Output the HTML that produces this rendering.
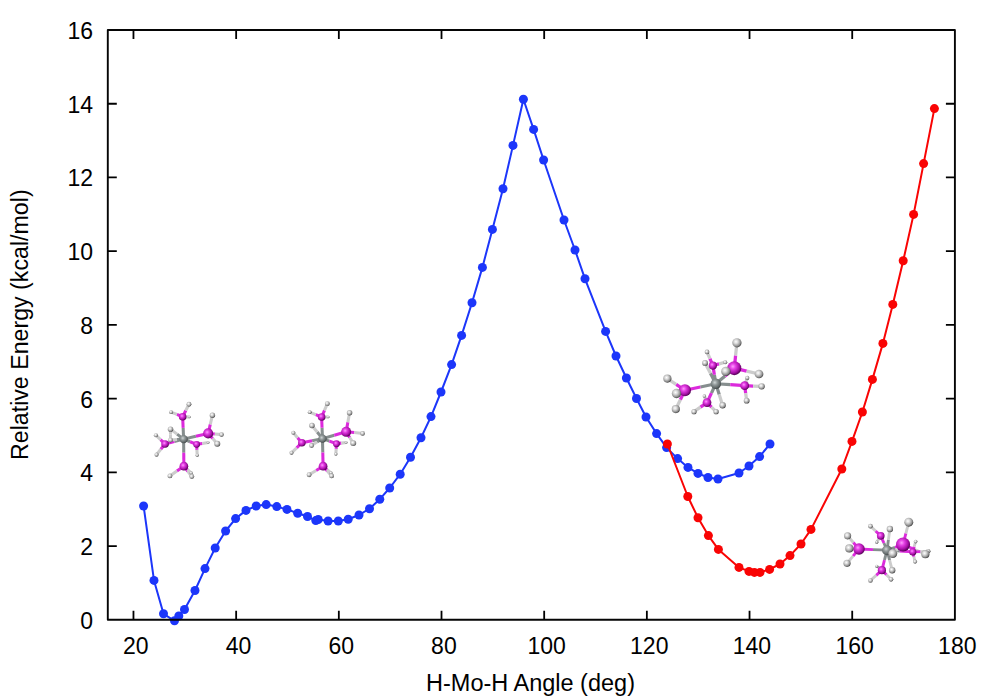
<!DOCTYPE html><html><head><meta charset="utf-8"><title>Relative Energy vs H-Mo-H Angle</title>
<style>html,body{margin:0;padding:0;background:#fff;}svg{display:block;}text{font-family:"Liberation Sans",sans-serif;fill:#000;}</style></head><body>
<svg width="1000" height="700" viewBox="0 0 1000 700">
<defs><radialGradient id="gP" cx="0.4" cy="0.38" r="0.65"><stop offset="0" stop-color="#ff9cff"/><stop offset="0.3" stop-color="#e440e4"/><stop offset="0.7" stop-color="#a810a8"/><stop offset="1" stop-color="#480048"/></radialGradient><radialGradient id="gH" cx="0.4" cy="0.38" r="0.65"><stop offset="0" stop-color="#ffffff"/><stop offset="0.35" stop-color="#d6d6d6"/><stop offset="0.75" stop-color="#8e8e8e"/><stop offset="1" stop-color="#3a3a3a"/></radialGradient><radialGradient id="gM" cx="0.4" cy="0.38" r="0.65"><stop offset="0" stop-color="#d0d6d6"/><stop offset="0.35" stop-color="#949c9c"/><stop offset="0.8" stop-color="#5e6666"/><stop offset="1" stop-color="#3a4040"/></radialGradient></defs>
<rect x="0" y="0" width="1000" height="700" fill="#fff"/>
<g><line x1="183.63" y1="439.11" x2="183.14" y2="427.94" stroke="#868e8e" stroke-width="3.04"/><line x1="183.14" y1="427.94" x2="182.65" y2="416.76" stroke="#dc2adc" stroke-width="3.04"/><line x1="183.63" y1="439.11" x2="195.89" y2="436.26" stroke="#868e8e" stroke-width="3.04"/><line x1="195.89" y1="436.26" x2="208.16" y2="433.40" stroke="#dc2adc" stroke-width="3.04"/><line x1="183.63" y1="439.11" x2="174.33" y2="441.54" stroke="#868e8e" stroke-width="3.04"/><line x1="174.33" y1="441.54" x2="165.04" y2="443.97" stroke="#dc2adc" stroke-width="3.04"/><line x1="183.63" y1="439.11" x2="190.12" y2="441.72" stroke="#868e8e" stroke-width="3.04"/><line x1="190.12" y1="441.72" x2="196.62" y2="444.33" stroke="#dc2adc" stroke-width="3.04"/><line x1="183.63" y1="439.11" x2="183.75" y2="452.65" stroke="#868e8e" stroke-width="3.04"/><line x1="183.75" y1="452.65" x2="183.87" y2="466.20" stroke="#dc2adc" stroke-width="3.04"/><line x1="183.63" y1="439.11" x2="177.07" y2="434.13" stroke="#868e8e" stroke-width="3.04"/><line x1="177.07" y1="434.13" x2="170.51" y2="429.15" stroke="#cccccc" stroke-width="3.04"/><line x1="183.63" y1="439.11" x2="177.07" y2="439.60" stroke="#868e8e" stroke-width="3.04"/><line x1="177.07" y1="439.60" x2="170.51" y2="440.08" stroke="#cccccc" stroke-width="3.04"/><line x1="170.51" y1="429.15" x2="170.51" y2="434.62" stroke="#cccccc" stroke-width="3.04"/><line x1="170.51" y1="434.62" x2="170.51" y2="440.08" stroke="#cccccc" stroke-width="3.04"/><line x1="182.65" y1="416.76" x2="185.81" y2="410.51" stroke="#dc2adc" stroke-width="3.04"/><line x1="185.81" y1="410.51" x2="188.97" y2="404.25" stroke="#cccccc" stroke-width="3.04"/><line x1="182.65" y1="416.76" x2="176.88" y2="414.45" stroke="#dc2adc" stroke-width="3.04"/><line x1="176.88" y1="414.45" x2="171.11" y2="412.15" stroke="#cccccc" stroke-width="3.04"/><line x1="182.65" y1="416.76" x2="185.99" y2="416.88" stroke="#dc2adc" stroke-width="3.04"/><line x1="185.99" y1="416.88" x2="189.33" y2="417.00" stroke="#cccccc" stroke-width="3.04"/><line x1="208.16" y1="433.40" x2="210.29" y2="424.29" stroke="#dc2adc" stroke-width="3.04"/><line x1="210.29" y1="424.29" x2="212.41" y2="415.18" stroke="#cccccc" stroke-width="3.04"/><line x1="208.16" y1="433.40" x2="214.84" y2="434.01" stroke="#dc2adc" stroke-width="3.04"/><line x1="214.84" y1="434.01" x2="221.52" y2="434.62" stroke="#cccccc" stroke-width="3.04"/><line x1="208.16" y1="433.40" x2="212.72" y2="438.56" stroke="#dc2adc" stroke-width="3.04"/><line x1="212.72" y1="438.56" x2="217.27" y2="443.73" stroke="#cccccc" stroke-width="3.04"/><line x1="165.04" y1="443.97" x2="160.49" y2="439.60" stroke="#dc2adc" stroke-width="3.04"/><line x1="160.49" y1="439.60" x2="155.93" y2="435.22" stroke="#cccccc" stroke-width="3.04"/><line x1="165.04" y1="443.97" x2="160.79" y2="449.31" stroke="#dc2adc" stroke-width="3.04"/><line x1="160.79" y1="449.31" x2="156.54" y2="454.66" stroke="#cccccc" stroke-width="3.04"/><line x1="196.62" y1="444.33" x2="202.39" y2="443.42" stroke="#dc2adc" stroke-width="3.04"/><line x1="202.39" y1="443.42" x2="208.16" y2="442.51" stroke="#cccccc" stroke-width="3.04"/><line x1="196.62" y1="444.33" x2="196.93" y2="449.80" stroke="#dc2adc" stroke-width="3.04"/><line x1="196.93" y1="449.80" x2="197.23" y2="455.27" stroke="#cccccc" stroke-width="3.04"/><line x1="183.87" y1="466.20" x2="176.88" y2="471.06" stroke="#dc2adc" stroke-width="3.04"/><line x1="176.88" y1="471.06" x2="169.90" y2="475.91" stroke="#cccccc" stroke-width="3.04"/><line x1="183.87" y1="466.20" x2="187.82" y2="471.36" stroke="#dc2adc" stroke-width="3.04"/><line x1="187.82" y1="471.36" x2="191.76" y2="476.52" stroke="#cccccc" stroke-width="3.04"/><line x1="183.87" y1="466.20" x2="187.51" y2="469.54" stroke="#dc2adc" stroke-width="3.04"/><line x1="187.51" y1="469.54" x2="191.16" y2="472.88" stroke="#cccccc" stroke-width="3.04"/><circle cx="191.16" cy="472.88" r="1.63" fill="url(#gH)"/><circle cx="189.33" cy="417.00" r="1.36" fill="url(#gH)"/><circle cx="208.16" cy="442.51" r="1.36" fill="url(#gH)"/><circle cx="183.63" cy="439.11" r="4.19" fill="url(#gM)"/><circle cx="182.65" cy="416.76" r="3.81" fill="url(#gP)"/><circle cx="188.97" cy="404.25" r="2.45" fill="url(#gH)"/><circle cx="171.11" cy="412.15" r="1.90" fill="url(#gH)"/><circle cx="165.04" cy="443.97" r="3.81" fill="url(#gP)"/><circle cx="155.93" cy="435.22" r="2.04" fill="url(#gH)"/><circle cx="156.54" cy="454.66" r="2.04" fill="url(#gH)"/><circle cx="196.62" cy="444.33" r="3.40" fill="url(#gP)"/><circle cx="197.23" cy="455.27" r="1.63" fill="url(#gH)"/><circle cx="183.87" cy="466.20" r="4.35" fill="url(#gP)"/><circle cx="169.90" cy="475.91" r="2.45" fill="url(#gH)"/><circle cx="191.76" cy="476.52" r="2.45" fill="url(#gH)"/><circle cx="170.51" cy="429.15" r="2.72" fill="url(#gH)"/><circle cx="170.51" cy="440.08" r="2.45" fill="url(#gH)"/><circle cx="208.16" cy="433.40" r="5.03" fill="url(#gP)"/><circle cx="212.41" cy="415.18" r="2.72" fill="url(#gH)"/><circle cx="221.52" cy="434.62" r="2.31" fill="url(#gH)"/><circle cx="217.27" cy="443.73" r="2.99" fill="url(#gH)"/></g><g><line x1="322.48" y1="438.63" x2="322.05" y2="427.81" stroke="#868e8e" stroke-width="3.04"/><line x1="322.05" y1="427.81" x2="321.63" y2="417.00" stroke="#dc2adc" stroke-width="3.04"/><line x1="322.48" y1="438.63" x2="334.32" y2="435.22" stroke="#868e8e" stroke-width="3.04"/><line x1="334.32" y1="435.22" x2="346.16" y2="431.82" stroke="#dc2adc" stroke-width="3.04"/><line x1="322.48" y1="438.63" x2="312.15" y2="440.69" stroke="#868e8e" stroke-width="3.04"/><line x1="312.15" y1="440.69" x2="301.83" y2="442.75" stroke="#dc2adc" stroke-width="3.04"/><line x1="322.48" y1="438.63" x2="329.46" y2="441.18" stroke="#868e8e" stroke-width="3.04"/><line x1="329.46" y1="441.18" x2="336.44" y2="443.73" stroke="#dc2adc" stroke-width="3.04"/><line x1="322.48" y1="438.63" x2="322.78" y2="452.41" stroke="#868e8e" stroke-width="3.04"/><line x1="322.78" y1="452.41" x2="323.08" y2="466.20" stroke="#dc2adc" stroke-width="3.04"/><line x1="322.48" y1="438.63" x2="317.19" y2="432.07" stroke="#868e8e" stroke-width="3.04"/><line x1="317.19" y1="432.07" x2="311.91" y2="425.51" stroke="#cccccc" stroke-width="3.04"/><line x1="322.48" y1="438.63" x2="317.01" y2="442.09" stroke="#868e8e" stroke-width="3.04"/><line x1="317.01" y1="442.09" x2="311.54" y2="445.55" stroke="#cccccc" stroke-width="3.04"/><line x1="321.63" y1="417.00" x2="324.48" y2="410.32" stroke="#dc2adc" stroke-width="3.04"/><line x1="324.48" y1="410.32" x2="327.33" y2="403.64" stroke="#cccccc" stroke-width="3.04"/><line x1="321.63" y1="417.00" x2="315.67" y2="414.58" stroke="#dc2adc" stroke-width="3.04"/><line x1="315.67" y1="414.58" x2="309.72" y2="412.15" stroke="#cccccc" stroke-width="3.04"/><line x1="321.63" y1="417.00" x2="324.90" y2="417.00" stroke="#dc2adc" stroke-width="3.04"/><line x1="324.90" y1="417.00" x2="328.18" y2="417.00" stroke="#cccccc" stroke-width="3.04"/><line x1="346.16" y1="431.82" x2="347.86" y2="422.29" stroke="#dc2adc" stroke-width="3.04"/><line x1="347.86" y1="422.29" x2="349.56" y2="412.75" stroke="#cccccc" stroke-width="3.04"/><line x1="346.16" y1="431.82" x2="354.36" y2="432.61" stroke="#dc2adc" stroke-width="3.04"/><line x1="354.36" y1="432.61" x2="362.56" y2="433.40" stroke="#cccccc" stroke-width="3.04"/><line x1="346.16" y1="431.82" x2="349.68" y2="437.47" stroke="#dc2adc" stroke-width="3.04"/><line x1="349.68" y1="437.47" x2="353.21" y2="443.12" stroke="#cccccc" stroke-width="3.04"/><line x1="301.83" y1="442.75" x2="297.58" y2="437.77" stroke="#dc2adc" stroke-width="3.04"/><line x1="297.58" y1="437.77" x2="293.32" y2="432.79" stroke="#cccccc" stroke-width="3.04"/><line x1="301.83" y1="442.75" x2="296.66" y2="447.80" stroke="#dc2adc" stroke-width="3.04"/><line x1="296.66" y1="447.80" x2="291.50" y2="452.84" stroke="#cccccc" stroke-width="3.04"/><line x1="336.44" y1="443.73" x2="341.30" y2="443.12" stroke="#dc2adc" stroke-width="3.04"/><line x1="341.30" y1="443.12" x2="346.16" y2="442.51" stroke="#cccccc" stroke-width="3.04"/><line x1="336.44" y1="443.73" x2="336.14" y2="448.89" stroke="#dc2adc" stroke-width="3.04"/><line x1="336.14" y1="448.89" x2="335.84" y2="454.05" stroke="#cccccc" stroke-width="3.04"/><line x1="323.08" y1="466.20" x2="316.10" y2="470.45" stroke="#dc2adc" stroke-width="3.04"/><line x1="316.10" y1="470.45" x2="309.11" y2="474.70" stroke="#cccccc" stroke-width="3.04"/><line x1="323.08" y1="466.20" x2="327.33" y2="471.06" stroke="#dc2adc" stroke-width="3.04"/><line x1="327.33" y1="471.06" x2="331.58" y2="475.91" stroke="#cccccc" stroke-width="3.04"/><line x1="323.08" y1="466.20" x2="327.03" y2="469.54" stroke="#dc2adc" stroke-width="3.04"/><line x1="327.03" y1="469.54" x2="330.98" y2="472.88" stroke="#cccccc" stroke-width="3.04"/><circle cx="330.98" cy="472.88" r="1.63" fill="url(#gH)"/><circle cx="328.18" cy="417.00" r="1.36" fill="url(#gH)"/><circle cx="346.16" cy="442.51" r="1.36" fill="url(#gH)"/><circle cx="322.48" cy="438.63" r="4.19" fill="url(#gM)"/><circle cx="321.63" cy="417.00" r="3.81" fill="url(#gP)"/><circle cx="327.33" cy="403.64" r="2.45" fill="url(#gH)"/><circle cx="309.72" cy="412.15" r="1.90" fill="url(#gH)"/><circle cx="301.83" cy="442.75" r="3.81" fill="url(#gP)"/><circle cx="293.32" cy="432.79" r="2.04" fill="url(#gH)"/><circle cx="291.50" cy="452.84" r="2.04" fill="url(#gH)"/><circle cx="336.44" cy="443.73" r="3.40" fill="url(#gP)"/><circle cx="335.84" cy="454.05" r="1.63" fill="url(#gH)"/><circle cx="323.08" cy="466.20" r="4.35" fill="url(#gP)"/><circle cx="309.11" cy="474.70" r="2.45" fill="url(#gH)"/><circle cx="331.58" cy="475.91" r="2.45" fill="url(#gH)"/><circle cx="311.91" cy="425.51" r="2.72" fill="url(#gH)"/><circle cx="311.54" cy="445.55" r="2.45" fill="url(#gH)"/><circle cx="346.16" cy="431.82" r="5.03" fill="url(#gP)"/><circle cx="349.56" cy="412.75" r="2.72" fill="url(#gH)"/><circle cx="362.56" cy="433.40" r="2.31" fill="url(#gH)"/><circle cx="353.21" cy="443.12" r="2.99" fill="url(#gH)"/></g><g><line x1="715.84" y1="383.75" x2="725.07" y2="375.95" stroke="#868e8e" stroke-width="3.25"/><line x1="725.07" y1="375.95" x2="734.30" y2="368.15" stroke="#dc2adc" stroke-width="3.25"/><line x1="715.84" y1="383.75" x2="714.35" y2="374.65" stroke="#868e8e" stroke-width="3.25"/><line x1="714.35" y1="374.65" x2="712.85" y2="365.55" stroke="#dc2adc" stroke-width="3.25"/><line x1="715.84" y1="383.75" x2="700.37" y2="387.00" stroke="#868e8e" stroke-width="3.25"/><line x1="700.37" y1="387.00" x2="684.90" y2="390.25" stroke="#dc2adc" stroke-width="3.25"/><line x1="715.84" y1="383.75" x2="730.27" y2="384.73" stroke="#868e8e" stroke-width="3.25"/><line x1="730.27" y1="384.73" x2="744.70" y2="385.70" stroke="#dc2adc" stroke-width="3.25"/><line x1="715.84" y1="383.75" x2="711.42" y2="393.18" stroke="#868e8e" stroke-width="3.25"/><line x1="711.42" y1="393.18" x2="707.00" y2="402.60" stroke="#dc2adc" stroke-width="3.25"/><line x1="715.84" y1="383.75" x2="710.45" y2="373.35" stroke="#868e8e" stroke-width="3.25"/><line x1="710.45" y1="373.35" x2="705.05" y2="362.95" stroke="#cccccc" stroke-width="3.25"/><line x1="715.84" y1="383.75" x2="719.22" y2="394.48" stroke="#868e8e" stroke-width="3.25"/><line x1="719.22" y1="394.48" x2="722.60" y2="405.20" stroke="#cccccc" stroke-width="3.25"/><line x1="734.30" y1="368.15" x2="735.60" y2="355.48" stroke="#dc2adc" stroke-width="3.25"/><line x1="735.60" y1="355.48" x2="736.90" y2="342.80" stroke="#cccccc" stroke-width="3.25"/><line x1="734.30" y1="368.15" x2="746.65" y2="371.08" stroke="#dc2adc" stroke-width="3.25"/><line x1="746.65" y1="371.08" x2="759.00" y2="374.00" stroke="#cccccc" stroke-width="3.25"/><line x1="734.30" y1="368.15" x2="730.08" y2="369.78" stroke="#dc2adc" stroke-width="3.25"/><line x1="730.08" y1="369.78" x2="725.85" y2="371.40" stroke="#cccccc" stroke-width="3.25"/><line x1="712.85" y1="365.55" x2="709.93" y2="358.73" stroke="#dc2adc" stroke-width="3.25"/><line x1="709.93" y1="358.73" x2="707.00" y2="351.90" stroke="#cccccc" stroke-width="3.25"/><line x1="712.85" y1="365.55" x2="719.03" y2="363.93" stroke="#dc2adc" stroke-width="3.25"/><line x1="719.03" y1="363.93" x2="725.20" y2="362.30" stroke="#cccccc" stroke-width="3.25"/><line x1="684.90" y1="390.25" x2="676.13" y2="384.40" stroke="#dc2adc" stroke-width="3.25"/><line x1="676.13" y1="384.40" x2="667.35" y2="378.55" stroke="#cccccc" stroke-width="3.25"/><line x1="684.90" y1="390.25" x2="680.68" y2="391.88" stroke="#dc2adc" stroke-width="3.25"/><line x1="680.68" y1="391.88" x2="676.45" y2="393.50" stroke="#cccccc" stroke-width="3.25"/><line x1="684.90" y1="390.25" x2="680.35" y2="399.68" stroke="#dc2adc" stroke-width="3.25"/><line x1="680.35" y1="399.68" x2="675.80" y2="409.10" stroke="#cccccc" stroke-width="3.25"/><line x1="744.70" y1="385.70" x2="753.15" y2="386.03" stroke="#dc2adc" stroke-width="3.25"/><line x1="753.15" y1="386.03" x2="761.60" y2="386.35" stroke="#cccccc" stroke-width="3.25"/><line x1="744.70" y1="385.70" x2="745.68" y2="393.18" stroke="#dc2adc" stroke-width="3.25"/><line x1="745.68" y1="393.18" x2="746.65" y2="400.65" stroke="#cccccc" stroke-width="3.25"/><line x1="744.70" y1="385.70" x2="746.00" y2="381.80" stroke="#dc2adc" stroke-width="3.25"/><line x1="746.00" y1="381.80" x2="747.30" y2="377.90" stroke="#cccccc" stroke-width="3.25"/><line x1="707.00" y1="402.60" x2="700.50" y2="407.15" stroke="#dc2adc" stroke-width="3.25"/><line x1="700.50" y1="407.15" x2="694.00" y2="411.70" stroke="#cccccc" stroke-width="3.25"/><line x1="707.00" y1="402.60" x2="711.55" y2="407.15" stroke="#dc2adc" stroke-width="3.25"/><line x1="711.55" y1="407.15" x2="716.10" y2="411.70" stroke="#cccccc" stroke-width="3.25"/><line x1="707.00" y1="402.60" x2="705.70" y2="399.35" stroke="#dc2adc" stroke-width="3.25"/><line x1="705.70" y1="399.35" x2="704.40" y2="396.10" stroke="#cccccc" stroke-width="3.25"/><circle cx="707.00" cy="351.90" r="2.33" fill="url(#gH)"/><circle cx="725.20" cy="362.30" r="2.04" fill="url(#gH)"/><circle cx="747.30" cy="377.90" r="2.04" fill="url(#gH)"/><circle cx="704.40" cy="396.10" r="1.75" fill="url(#gH)"/><circle cx="712.85" cy="365.55" r="4.08" fill="url(#gP)"/><circle cx="705.05" cy="362.95" r="2.91" fill="url(#gH)"/><circle cx="715.84" cy="383.75" r="5.23" fill="url(#gM)"/><circle cx="744.70" cy="385.70" r="4.37" fill="url(#gP)"/><circle cx="761.60" cy="386.35" r="3.20" fill="url(#gH)"/><circle cx="746.65" cy="400.65" r="2.91" fill="url(#gH)"/><circle cx="707.00" cy="402.60" r="4.37" fill="url(#gP)"/><circle cx="694.00" cy="411.70" r="2.62" fill="url(#gH)"/><circle cx="716.10" cy="411.70" r="2.62" fill="url(#gH)"/><circle cx="722.60" cy="405.20" r="3.20" fill="url(#gH)"/><circle cx="684.90" cy="390.25" r="6.12" fill="url(#gP)"/><circle cx="667.35" cy="378.55" r="4.08" fill="url(#gH)"/><circle cx="675.80" cy="409.10" r="4.08" fill="url(#gH)"/><circle cx="676.45" cy="393.50" r="4.66" fill="url(#gH)"/><circle cx="734.30" cy="368.15" r="6.99" fill="url(#gP)"/><circle cx="736.90" cy="342.80" r="4.66" fill="url(#gH)"/><circle cx="759.00" cy="374.00" r="4.37" fill="url(#gH)"/><circle cx="725.85" cy="371.40" r="4.66" fill="url(#gH)"/></g><g><line x1="887.03" y1="550.17" x2="895.03" y2="547.31" stroke="#868e8e" stroke-width="2.86"/><line x1="895.03" y1="547.31" x2="903.04" y2="544.45" stroke="#dc2adc" stroke-width="2.86"/><line x1="887.03" y1="550.17" x2="883.89" y2="543.02" stroke="#868e8e" stroke-width="2.86"/><line x1="883.89" y1="543.02" x2="880.74" y2="535.87" stroke="#dc2adc" stroke-width="2.86"/><line x1="887.03" y1="550.17" x2="873.02" y2="549.60" stroke="#868e8e" stroke-width="2.86"/><line x1="873.02" y1="549.60" x2="859.01" y2="549.03" stroke="#dc2adc" stroke-width="2.86"/><line x1="887.03" y1="550.17" x2="899.89" y2="551.03" stroke="#868e8e" stroke-width="2.86"/><line x1="899.89" y1="551.03" x2="912.76" y2="551.88" stroke="#dc2adc" stroke-width="2.86"/><line x1="887.03" y1="550.17" x2="884.46" y2="560.17" stroke="#868e8e" stroke-width="2.86"/><line x1="884.46" y1="560.17" x2="881.88" y2="570.18" stroke="#dc2adc" stroke-width="2.86"/><line x1="887.03" y1="550.17" x2="888.46" y2="539.59" stroke="#868e8e" stroke-width="2.86"/><line x1="888.46" y1="539.59" x2="889.89" y2="529.01" stroke="#cccccc" stroke-width="2.86"/><line x1="887.03" y1="550.17" x2="889.60" y2="560.17" stroke="#868e8e" stroke-width="2.86"/><line x1="889.60" y1="560.17" x2="892.18" y2="570.18" stroke="#cccccc" stroke-width="2.86"/><line x1="903.04" y1="544.45" x2="905.90" y2="533.30" stroke="#dc2adc" stroke-width="2.86"/><line x1="905.90" y1="533.30" x2="908.76" y2="522.15" stroke="#cccccc" stroke-width="2.86"/><line x1="903.04" y1="544.45" x2="914.19" y2="549.31" stroke="#dc2adc" stroke-width="2.86"/><line x1="914.19" y1="549.31" x2="925.34" y2="554.17" stroke="#cccccc" stroke-width="2.86"/><line x1="903.04" y1="544.45" x2="897.89" y2="549.03" stroke="#dc2adc" stroke-width="2.86"/><line x1="897.89" y1="549.03" x2="892.75" y2="553.60" stroke="#cccccc" stroke-width="2.86"/><line x1="880.74" y1="535.87" x2="875.59" y2="531.01" stroke="#dc2adc" stroke-width="2.86"/><line x1="875.59" y1="531.01" x2="870.45" y2="526.15" stroke="#cccccc" stroke-width="2.86"/><line x1="880.74" y1="535.87" x2="878.74" y2="539.02" stroke="#dc2adc" stroke-width="2.86"/><line x1="878.74" y1="539.02" x2="876.74" y2="542.16" stroke="#cccccc" stroke-width="2.86"/><line x1="859.01" y1="549.03" x2="853.30" y2="542.45" stroke="#dc2adc" stroke-width="2.86"/><line x1="853.30" y1="542.45" x2="847.58" y2="535.87" stroke="#cccccc" stroke-width="2.86"/><line x1="859.01" y1="549.03" x2="854.15" y2="548.74" stroke="#dc2adc" stroke-width="2.86"/><line x1="854.15" y1="548.74" x2="849.29" y2="548.45" stroke="#cccccc" stroke-width="2.86"/><line x1="859.01" y1="549.03" x2="853.01" y2="556.17" stroke="#dc2adc" stroke-width="2.86"/><line x1="853.01" y1="556.17" x2="847.01" y2="563.32" stroke="#cccccc" stroke-width="2.86"/><line x1="912.76" y1="551.88" x2="914.19" y2="546.74" stroke="#dc2adc" stroke-width="2.86"/><line x1="914.19" y1="546.74" x2="915.62" y2="541.59" stroke="#cccccc" stroke-width="2.86"/><line x1="912.76" y1="551.88" x2="913.90" y2="556.74" stroke="#dc2adc" stroke-width="2.86"/><line x1="913.90" y1="556.74" x2="915.05" y2="561.60" stroke="#cccccc" stroke-width="2.86"/><line x1="912.76" y1="551.88" x2="920.48" y2="551.60" stroke="#dc2adc" stroke-width="2.86"/><line x1="920.48" y1="551.60" x2="928.20" y2="551.31" stroke="#cccccc" stroke-width="2.86"/><line x1="881.88" y1="570.18" x2="876.17" y2="575.33" stroke="#dc2adc" stroke-width="2.86"/><line x1="876.17" y1="575.33" x2="870.45" y2="580.47" stroke="#cccccc" stroke-width="2.86"/><line x1="881.88" y1="570.18" x2="886.46" y2="574.75" stroke="#dc2adc" stroke-width="2.86"/><line x1="886.46" y1="574.75" x2="891.03" y2="579.33" stroke="#cccccc" stroke-width="2.86"/><line x1="881.88" y1="570.18" x2="879.31" y2="568.18" stroke="#dc2adc" stroke-width="2.86"/><line x1="879.31" y1="568.18" x2="876.74" y2="566.18" stroke="#cccccc" stroke-width="2.86"/><circle cx="876.74" cy="542.16" r="1.54" fill="url(#gH)"/><circle cx="876.74" cy="566.18" r="1.54" fill="url(#gH)"/><circle cx="915.62" cy="541.59" r="1.79" fill="url(#gH)"/><circle cx="915.05" cy="561.60" r="2.05" fill="url(#gH)"/><circle cx="928.20" cy="551.31" r="2.31" fill="url(#gH)"/><circle cx="912.76" cy="551.88" r="3.59" fill="url(#gP)"/><circle cx="880.74" cy="535.87" r="3.84" fill="url(#gP)"/><circle cx="870.45" cy="526.15" r="2.31" fill="url(#gH)"/><circle cx="889.89" cy="529.01" r="3.20" fill="url(#gH)"/><circle cx="887.03" cy="550.17" r="5.00" fill="url(#gM)"/><circle cx="881.88" cy="570.18" r="4.10" fill="url(#gP)"/><circle cx="870.45" cy="580.47" r="2.31" fill="url(#gH)"/><circle cx="891.03" cy="579.33" r="2.31" fill="url(#gH)"/><circle cx="892.18" cy="570.18" r="3.20" fill="url(#gH)"/><circle cx="859.01" cy="549.03" r="5.76" fill="url(#gP)"/><circle cx="847.58" cy="535.87" r="3.59" fill="url(#gH)"/><circle cx="847.01" cy="563.32" r="3.59" fill="url(#gH)"/><circle cx="849.29" cy="548.45" r="4.10" fill="url(#gH)"/><circle cx="903.04" cy="544.45" r="7.04" fill="url(#gP)"/><circle cx="908.76" cy="522.15" r="4.48" fill="url(#gH)"/><circle cx="925.34" cy="554.17" r="4.10" fill="url(#gH)"/><circle cx="892.75" cy="553.60" r="4.48" fill="url(#gH)"/></g>
<g><path d="M143.6 506.0 L154.0 580.4 L163.5 613.8 L174.5 620.8 L178.8 616.0 L184.5 609.5 L195.0 590.5 L205.0 568.6 L215.2 548.0 L225.6 531.0 L235.6 518.6 L246.0 510.4 L256.2 506.0 L266.2 504.6 L276.8 506.6 L287.0 509.4 L297.7 513.2 L307.5 516.5 L315.8 520.6 L318.2 519.5 L328.1 521.0 L338.3 521.0 L348.2 519.2 L359.0 515.0 L369.5 508.7 L379.8 499.2 L389.7 488.0 L400.2 474.2 L410.5 457.2 L421.0 437.8 L431.0 416.6 L441.0 392.0 L451.6 364.6 L461.6 335.4 L472.0 302.8 L482.4 267.4 L492.4 229.4 L503.0 188.8 L513.0 145.4 L523.4 99.2 L533.6 129.4 L543.6 160.0 L564.0 220.0 L575.0 250.0 L585.0 278.8 L605.6 331.4 L616.0 356.0 L626.4 378.0 L636.5 398.5 L646.0 417.0 L656.6 433.6 L666.6 447.6 L677.6 458.6 L688.0 467.4 L698.0 473.4 L708.0 477.5 L718.0 479.0 L739.0 473.0 L749.0 466.0 L759.6 456.6 L770.0 444.0" fill="none" stroke="#1c36fa" stroke-width="2.0" stroke-linejoin="round"/><circle cx="143.6" cy="506.0" r="4.5" fill="#1c36fa"/><circle cx="154.0" cy="580.4" r="4.5" fill="#1c36fa"/><circle cx="163.5" cy="613.8" r="4.5" fill="#1c36fa"/><circle cx="174.5" cy="620.8" r="4.5" fill="#1c36fa"/><circle cx="178.8" cy="616.0" r="4.5" fill="#1c36fa"/><circle cx="184.5" cy="609.5" r="4.5" fill="#1c36fa"/><circle cx="195.0" cy="590.5" r="4.5" fill="#1c36fa"/><circle cx="205.0" cy="568.6" r="4.5" fill="#1c36fa"/><circle cx="215.2" cy="548.0" r="4.5" fill="#1c36fa"/><circle cx="225.6" cy="531.0" r="4.5" fill="#1c36fa"/><circle cx="235.6" cy="518.6" r="4.5" fill="#1c36fa"/><circle cx="246.0" cy="510.4" r="4.5" fill="#1c36fa"/><circle cx="256.2" cy="506.0" r="4.5" fill="#1c36fa"/><circle cx="266.2" cy="504.6" r="4.5" fill="#1c36fa"/><circle cx="276.8" cy="506.6" r="4.5" fill="#1c36fa"/><circle cx="287.0" cy="509.4" r="4.5" fill="#1c36fa"/><circle cx="297.7" cy="513.2" r="4.5" fill="#1c36fa"/><circle cx="307.5" cy="516.5" r="4.5" fill="#1c36fa"/><circle cx="315.8" cy="520.6" r="4.5" fill="#1c36fa"/><circle cx="318.2" cy="519.5" r="4.5" fill="#1c36fa"/><circle cx="328.1" cy="521.0" r="4.5" fill="#1c36fa"/><circle cx="338.3" cy="521.0" r="4.5" fill="#1c36fa"/><circle cx="348.2" cy="519.2" r="4.5" fill="#1c36fa"/><circle cx="359.0" cy="515.0" r="4.5" fill="#1c36fa"/><circle cx="369.5" cy="508.7" r="4.5" fill="#1c36fa"/><circle cx="379.8" cy="499.2" r="4.5" fill="#1c36fa"/><circle cx="389.7" cy="488.0" r="4.5" fill="#1c36fa"/><circle cx="400.2" cy="474.2" r="4.5" fill="#1c36fa"/><circle cx="410.5" cy="457.2" r="4.5" fill="#1c36fa"/><circle cx="421.0" cy="437.8" r="4.5" fill="#1c36fa"/><circle cx="431.0" cy="416.6" r="4.5" fill="#1c36fa"/><circle cx="441.0" cy="392.0" r="4.5" fill="#1c36fa"/><circle cx="451.6" cy="364.6" r="4.5" fill="#1c36fa"/><circle cx="461.6" cy="335.4" r="4.5" fill="#1c36fa"/><circle cx="472.0" cy="302.8" r="4.5" fill="#1c36fa"/><circle cx="482.4" cy="267.4" r="4.5" fill="#1c36fa"/><circle cx="492.4" cy="229.4" r="4.5" fill="#1c36fa"/><circle cx="503.0" cy="188.8" r="4.5" fill="#1c36fa"/><circle cx="513.0" cy="145.4" r="4.5" fill="#1c36fa"/><circle cx="523.4" cy="99.2" r="4.5" fill="#1c36fa"/><circle cx="533.6" cy="129.4" r="4.5" fill="#1c36fa"/><circle cx="543.6" cy="160.0" r="4.5" fill="#1c36fa"/><circle cx="564.0" cy="220.0" r="4.5" fill="#1c36fa"/><circle cx="575.0" cy="250.0" r="4.5" fill="#1c36fa"/><circle cx="585.0" cy="278.8" r="4.5" fill="#1c36fa"/><circle cx="605.6" cy="331.4" r="4.5" fill="#1c36fa"/><circle cx="616.0" cy="356.0" r="4.5" fill="#1c36fa"/><circle cx="626.4" cy="378.0" r="4.5" fill="#1c36fa"/><circle cx="636.5" cy="398.5" r="4.5" fill="#1c36fa"/><circle cx="646.0" cy="417.0" r="4.5" fill="#1c36fa"/><circle cx="656.6" cy="433.6" r="4.5" fill="#1c36fa"/><circle cx="666.6" cy="447.6" r="4.5" fill="#1c36fa"/><circle cx="677.6" cy="458.6" r="4.5" fill="#1c36fa"/><circle cx="688.0" cy="467.4" r="4.5" fill="#1c36fa"/><circle cx="698.0" cy="473.4" r="4.5" fill="#1c36fa"/><circle cx="708.0" cy="477.5" r="4.5" fill="#1c36fa"/><circle cx="718.0" cy="479.0" r="4.5" fill="#1c36fa"/><circle cx="739.0" cy="473.0" r="4.5" fill="#1c36fa"/><circle cx="749.0" cy="466.0" r="4.5" fill="#1c36fa"/><circle cx="759.6" cy="456.6" r="4.5" fill="#1c36fa"/><circle cx="770.0" cy="444.0" r="4.5" fill="#1c36fa"/></g>
<g><path d="M667.4 444.0 L687.8 496.5 L698.0 517.8 L708.4 535.6 L718.4 549.4 L739.0 567.4 L749.0 571.4 L754.4 572.4 L760.0 572.4 L769.6 569.4 L780.0 564.0 L790.0 555.6 L801.0 544.0 L811.0 529.4 L841.8 469.0 L852.0 441.4 L862.4 412.0 L872.4 379.4 L882.9 343.4 L892.8 304.4 L903.2 260.8 L913.6 214.4 L923.6 163.6 L934.4 108.6" fill="none" stroke="#f90404" stroke-width="2.0" stroke-linejoin="round"/><circle cx="667.4" cy="444.0" r="4.5" fill="#f90404"/><circle cx="687.8" cy="496.5" r="4.5" fill="#f90404"/><circle cx="698.0" cy="517.8" r="4.5" fill="#f90404"/><circle cx="708.4" cy="535.6" r="4.5" fill="#f90404"/><circle cx="718.4" cy="549.4" r="4.5" fill="#f90404"/><circle cx="739.0" cy="567.4" r="4.5" fill="#f90404"/><circle cx="749.0" cy="571.4" r="4.5" fill="#f90404"/><circle cx="754.4" cy="572.4" r="4.5" fill="#f90404"/><circle cx="760.0" cy="572.4" r="4.5" fill="#f90404"/><circle cx="769.6" cy="569.4" r="4.5" fill="#f90404"/><circle cx="780.0" cy="564.0" r="4.5" fill="#f90404"/><circle cx="790.0" cy="555.6" r="4.5" fill="#f90404"/><circle cx="801.0" cy="544.0" r="4.5" fill="#f90404"/><circle cx="811.0" cy="529.4" r="4.5" fill="#f90404"/><circle cx="841.8" cy="469.0" r="4.5" fill="#f90404"/><circle cx="852.0" cy="441.4" r="4.5" fill="#f90404"/><circle cx="862.4" cy="412.0" r="4.5" fill="#f90404"/><circle cx="872.4" cy="379.4" r="4.5" fill="#f90404"/><circle cx="882.9" cy="343.4" r="4.5" fill="#f90404"/><circle cx="892.8" cy="304.4" r="4.5" fill="#f90404"/><circle cx="903.2" cy="260.8" r="4.5" fill="#f90404"/><circle cx="913.6" cy="214.4" r="4.5" fill="#f90404"/><circle cx="923.6" cy="163.6" r="4.5" fill="#f90404"/><circle cx="934.4" cy="108.6" r="4.5" fill="#f90404"/></g>
<rect x="107.8" y="30.0" width="847.10" height="589.80" fill="none" stroke="#050505" stroke-width="1.9" stroke-linejoin="round"/>
<path d="M133.47 619.8V610.8M133.47 30.0V39.0M236.15 619.8V610.8M236.15 30.0V39.0M338.83 619.8V610.8M338.83 30.0V39.0M441.51 619.8V610.8M441.51 30.0V39.0M544.18 619.8V610.8M544.18 30.0V39.0M646.86 619.8V610.8M646.86 30.0V39.0M749.54 619.8V610.8M749.54 30.0V39.0M852.22 619.8V610.8M852.22 30.0V39.0M107.8 546.07H116.8M954.9 546.07H945.9M107.8 472.35H116.8M954.9 472.35H945.9M107.8 398.62H116.8M954.9 398.62H945.9M107.8 324.90H116.8M954.9 324.90H945.9M107.8 251.17H116.8M954.9 251.17H945.9M107.8 177.45H116.8M954.9 177.45H945.9M107.8 103.73H116.8M954.9 103.73H945.9" stroke="#000" stroke-width="1.8" fill="none"/>
<text x="135.87" y="653.9" font-size="23" text-anchor="middle">20</text>
<text x="238.55" y="653.9" font-size="23" text-anchor="middle">40</text>
<text x="341.23" y="653.9" font-size="23" text-anchor="middle">60</text>
<text x="443.91" y="653.9" font-size="23" text-anchor="middle">80</text>
<text x="546.58" y="653.9" font-size="23" text-anchor="middle">100</text>
<text x="649.26" y="653.9" font-size="23" text-anchor="middle">120</text>
<text x="751.94" y="653.9" font-size="23" text-anchor="middle">140</text>
<text x="854.62" y="653.9" font-size="23" text-anchor="middle">160</text>
<text x="957.30" y="653.9" font-size="23" text-anchor="middle">180</text>
<text x="93" y="628.80" font-size="23" text-anchor="end">0</text>
<text x="93" y="555.07" font-size="23" text-anchor="end">2</text>
<text x="93" y="481.35" font-size="23" text-anchor="end">4</text>
<text x="93" y="407.62" font-size="23" text-anchor="end">6</text>
<text x="93" y="333.90" font-size="23" text-anchor="end">8</text>
<text x="93" y="260.17" font-size="23" text-anchor="end">10</text>
<text x="93" y="186.45" font-size="23" text-anchor="end">12</text>
<text x="93" y="112.73" font-size="23" text-anchor="end">14</text>
<text x="93" y="39.00" font-size="23" text-anchor="end">16</text>
<text x="426" y="690.7" font-size="23" textLength="209" lengthAdjust="spacingAndGlyphs">H-Mo-H Angle (deg)</text>
<text transform="translate(28.4 460) rotate(-90)" x="0" y="0" font-size="23" textLength="270.6" lengthAdjust="spacingAndGlyphs">Relative Energy (kcal/mol)</text>
</svg></body></html>
